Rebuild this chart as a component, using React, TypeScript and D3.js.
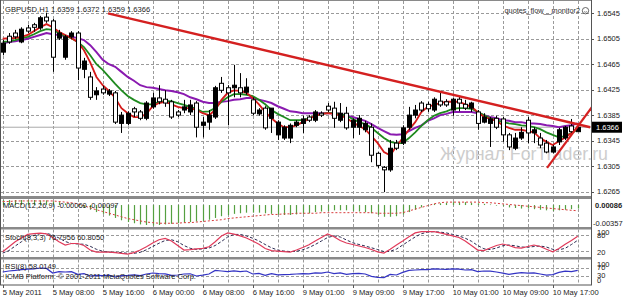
import React from 'react';
import * as d3 from 'd3';

const W = 623;
const H = 298;

// ---- price data (hourly GBPUSD) ----
const opens = [1.6484,1.6509,1.6514,1.6500,1.6522,1.6527,1.6522,1.6539,1.6533,1.6506,
1.6476,1.6508,1.6514,1.6457,1.6445,1.6417,1.6426,1.6418,1.6420,1.6372,
1.6372,1.6395,1.6390,1.6380,1.6398,1.6412,1.6410,1.6406,1.6390,1.6393,
1.6390,1.6404,1.6369,1.6374,1.6382,1.6435,1.6428,1.6428,1.6428,1.6421,
1.6409,1.6387,1.6396,1.6380,1.6354,1.6349,1.6349,1.6369,1.6372,1.6382,
1.6377,1.6388,1.6399,1.6396,1.6377,1.6388,1.6366,1.6366,1.6362,1.6366,
1.6325,1.6303,1.6299,1.6341,1.6341,1.6366,1.6385,1.6404,1.6402,1.6393,
1.6407,1.6406,1.6393,1.6410,1.6402,1.6396,1.6390,1.6374,1.6372,1.6380,
1.6379,1.6354,1.6333,1.6349,1.6377,1.6357,1.6349,1.6341,1.6327,1.6343,
1.6349,1.6368,1.6359];
const highs = [1.6503,1.6514,1.6519,1.6523,1.6527,1.6530,1.6541,1.6546,1.6536,1.6519,
1.6511,1.6517,1.6517,1.6475,1.6453,1.6429,1.6431,1.6426,1.6423,1.6390,
1.6391,1.6398,1.6393,1.6407,1.6420,1.6432,1.6424,1.6409,1.6393,1.6409,
1.6409,1.6407,1.6382,1.6393,1.6431,1.6445,1.6432,1.6464,1.6451,1.6443,
1.6413,1.6396,1.6399,1.6396,1.6377,1.6369,1.6372,1.6377,1.6384,1.6385,
1.6393,1.6391,1.6404,1.6406,1.6404,1.6398,1.6380,1.6385,1.6376,1.6372,
1.6327,1.6305,1.6346,1.6346,1.6369,1.6398,1.6401,1.6407,1.6406,1.6413,
1.6420,1.6410,1.6412,1.6415,1.6409,1.6406,1.6393,1.6388,1.6382,1.6384,
1.6382,1.6357,1.6357,1.6366,1.6382,1.6366,1.6357,1.6346,1.6338,1.6365,
1.6368,1.6379,1.6372];
const lows = [1.6479,1.6497,1.6505,1.6498,1.6514,1.6516,1.6519,1.6530,1.6453,1.6503,
1.6472,1.6505,1.6440,1.6443,1.6409,1.6409,1.6417,1.6415,1.6371,1.6357,
1.6369,1.6382,1.6377,1.6377,1.6395,1.6402,1.6398,1.6379,1.6382,1.6388,
1.6385,1.6350,1.6350,1.6362,1.6379,1.6420,1.6369,1.6413,1.6413,1.6417,
1.6385,1.6384,1.6362,1.6357,1.6346,1.6346,1.6341,1.6366,1.6357,1.6374,
1.6374,1.6382,1.6390,1.6365,1.6374,1.6362,1.6349,1.6354,1.6358,1.6311,
1.6302,1.6264,1.6296,1.6330,1.6338,1.6362,1.6380,1.6390,1.6390,1.6390,
1.6398,1.6398,1.6384,1.6391,1.6393,1.6390,1.6362,1.6372,1.6335,1.6363,
1.6343,1.6330,1.6330,1.6346,1.6341,1.6341,1.6333,1.6325,1.6325,1.6338,
1.6346,1.6357,1.6359];
const closes = [1.6498,1.6500,1.6508,1.6520,1.6517,1.6523,1.6538,1.6533,1.6476,1.6514,
1.6508,1.6514,1.6459,1.6470,1.6413,1.6423,1.6420,1.6423,1.6374,1.6385,
1.6388,1.6390,1.6380,1.6404,1.6412,1.6406,1.6404,1.6382,1.6385,1.6398,
1.6401,1.6366,1.6374,1.6385,1.6428,1.6424,1.6420,1.6432,1.6420,1.6429,
1.6388,1.6393,1.6365,1.6396,1.6374,1.6366,1.6369,1.6374,1.6379,1.6377,
1.6390,1.6385,1.6393,1.6380,1.6388,1.6365,1.6377,1.6380,1.6372,1.6322,
1.6306,1.6299,1.6333,1.6333,1.6365,1.6385,1.6393,1.6393,1.6395,1.6410,
1.6401,1.6401,1.6410,1.6404,1.6396,1.6404,1.6372,1.6382,1.6379,1.6366,
1.6354,1.6335,1.6349,1.6358,1.6357,1.6362,1.6338,1.6327,1.6335,1.6362,
1.6366,1.6359,1.6366];

// moving averages
const maRed = [1.6505,1.6506,1.6506,1.6508,1.6511,1.6517,1.6523,1.6528,1.6523,1.6516,
1.6511,1.6506,1.6500,1.6487,1.6468,1.6445,1.6432,1.6423,1.6412,1.6396,
1.6388,1.6382,1.6382,1.6387,1.6399,1.6404,1.6406,1.6402,1.6398,1.6396,
1.6396,1.6393,1.6388,1.6385,1.6393,1.6409,1.6420,1.6424,1.6423,1.6420,
1.6412,1.6402,1.6390,1.6380,1.6372,1.6366,1.6366,1.6369,1.6374,1.6379,
1.6384,1.6387,1.6388,1.6387,1.6385,1.6380,1.6374,1.6368,1.6363,1.6352,
1.6341,1.6327,1.6322,1.6336,1.6349,1.6362,1.6374,1.6390,1.6398,1.6401,
1.6404,1.6406,1.6406,1.6406,1.6402,1.6398,1.6390,1.6382,1.6379,1.6376,
1.6369,1.6365,1.6362,1.6362,1.6360,1.6358,1.6349,1.6343,1.6338,1.6344,
1.6350,1.6357,1.6365];
const maGreen = [1.6500,1.6501,1.6503,1.6506,1.6508,1.6512,1.6517,1.6520,1.6519,1.6514,
1.6509,1.6506,1.6500,1.6492,1.6479,1.6465,1.6456,1.6445,1.6434,1.6424,
1.6415,1.6409,1.6404,1.6402,1.6402,1.6406,1.6407,1.6407,1.6404,1.6401,
1.6398,1.6395,1.6390,1.6391,1.6396,1.6406,1.6413,1.6418,1.6418,1.6417,
1.6415,1.6409,1.6402,1.6393,1.6387,1.6382,1.6377,1.6377,1.6377,1.6380,
1.6384,1.6387,1.6388,1.6388,1.6387,1.6384,1.6379,1.6374,1.6371,1.6365,
1.6357,1.6349,1.6343,1.6341,1.6341,1.6349,1.6358,1.6368,1.6377,1.6384,
1.6388,1.6391,1.6395,1.6396,1.6396,1.6395,1.6390,1.6385,1.6380,1.6377,
1.6374,1.6372,1.6371,1.6369,1.6368,1.6366,1.6363,1.6358,1.6354,1.6350,
1.6352,1.6357,1.6362];
const maPurple = [1.6498,1.6500,1.6501,1.6503,1.6505,1.6508,1.6511,1.6514,1.6512,1.6511,
1.6509,1.6508,1.6506,1.6503,1.6495,1.6484,1.6472,1.6465,1.6461,1.6453,
1.6445,1.6439,1.6432,1.6429,1.6428,1.6426,1.6424,1.6423,1.6421,1.6418,
1.6413,1.6410,1.6406,1.6404,1.6404,1.6406,1.6407,1.6409,1.6410,1.6412,
1.6412,1.6409,1.6407,1.6404,1.6399,1.6395,1.6391,1.6390,1.6388,1.6388,
1.6388,1.6388,1.6388,1.6388,1.6387,1.6384,1.6382,1.6379,1.6376,1.6371,
1.6365,1.6360,1.6355,1.6354,1.6355,1.6360,1.6365,1.6369,1.6376,1.6380,
1.6385,1.6387,1.6390,1.6390,1.6390,1.6390,1.6388,1.6385,1.6382,1.6380,
1.6377,1.6376,1.6374,1.6374,1.6372,1.6372,1.6371,1.6369,1.6368,1.6366,
1.6368,1.6369,1.6372];

// MACD
const macdMain = [0.00086,0.00086,0.00086,0.00086,0.00086,0.00086,0.0008,0.0008,0.0006,0.0005,
0.0003,0.0001,-0.0002,-0.0005,-0.0008,-0.0012,-0.0015,-0.0018,-0.0022,-0.0026,
-0.0029,-0.0031,-0.0033,-0.0034,-0.0035,-0.0034,-0.0033,-0.0032,-0.0031,-0.0030,
-0.0029,-0.0028,-0.0027,-0.0025,-0.0022,-0.0019,-0.0017,-0.0015,-0.0014,-0.0013,
-0.0013,-0.0013,-0.0014,-0.0015,-0.0016,-0.0017,-0.0017,-0.0016,-0.0015,-0.0014,
-0.0012,-0.0011,-0.0010,-0.0009,-0.0009,-0.0009,-0.0010,-0.0011,-0.0012,-0.0014,
-0.0017,-0.0020,-0.0020,-0.0019,-0.0016,-0.0012,-0.0008,-0.0004,-0.0001,0.0002,
0.0003,0.0004,0.0005,0.0005,0.0005,0.0004,0.0003,0.0002,0.0001,-0.0001,
-0.0002,-0.0004,-0.0005,-0.0006,-0.0006,-0.0007,-0.0008,-0.0009,-0.0010,-0.0009,
-0.0008,-0.0007,-0.0006];
const macdSignal = [0.0006,0.0006,0.0007,0.0007,0.0007,0.0007,0.0007,0.0007,0.0007,0.0006,
0.0005,0.0004,0.0002,-0.0001,-0.0005,-0.0008,-0.0011,-0.0014,-0.0017,-0.0020,
-0.0023,-0.0025,-0.0027,-0.0029,-0.0030,-0.0031,-0.0031,-0.0031,-0.0031,-0.0030,
-0.0030,-0.0029,-0.0028,-0.0027,-0.0026,-0.0025,-0.0023,-0.0022,-0.0021,-0.0020,
-0.0019,-0.0018,-0.0017,-0.0016,-0.0016,-0.0015,-0.0015,-0.0014,-0.0014,-0.0014,
-0.0014,-0.0013,-0.0013,-0.0013,-0.0013,-0.0013,-0.0013,-0.0013,-0.0013,-0.0013,
-0.0014,-0.0014,-0.0014,-0.0014,-0.0013,-0.0010,-0.0007,-0.0004,-0.0001,0.0002,
0.0004,0.0005,0.0005,0.0005,0.0005,0.0005,0.0005,0.0004,0.0004,0.0003,
0.0002,0.0001,0.0000,-0.0001,-0.0002,-0.0003,-0.0004,-0.0005,-0.0006,-0.0007,
-0.0008,-0.0009,-0.00097];

// Stochastic
const stochMain = [15,35,55,70,84,87,89,86,72,55,
42,48,48,40,22,14,14,14,12,9,
6,12,22,35,50,63,68,58,40,22,
24,27,29,35,55,78,90,85,78,70,
58,45,28,20,18,16,14,22,32,43,
58,72,86,75,60,50,44,38,32,24,
15,10,25,42,58,75,90,95,95,95,
90,84,78,72,58,40,22,20,30,40,
46,40,32,30,36,42,36,25,15,28,
45,60,76.7956];
const stochSignal = [10,20,38,55,70,80,87,88,82,70,
56,48,46,45,37,25,17,14,13,12,
9,9,13,23,36,49,60,63,55,40,
29,24,27,30,40,56,74,84,84,78,
69,58,44,31,22,18,16,17,23,32,
44,58,72,78,74,62,51,44,38,31,
24,16,17,26,42,58,74,87,93,95,
93,90,84,78,69,57,40,27,24,30,
39,42,39,34,33,36,38,34,25,23,
29,44,60.805];

// RSI
const rsiValues = [50,55,58,62,64,66,70,68,45,52,
50,52,38,42,30,33,32,34,25,32,
33,36,32,40,45,42,41,33,35,40,
41,30,34,40,58,55,52,56,52,55,
40,43,33,42,36,37,38,40,42,41,
46,44,50,42,46,38,42,43,40,28,
23,22,38,35,48,58,60,62,62,66,
64,63,66,64,60,62,52,55,54,50,
44,38,43,47,44,46,40,34,37,48,
54,52,58.0149];

// axes
const timeLabelBars = [0, 8, 16, 24, 32, 40, 48, 56, 64, 72, 80, 88];
const timeLabels = ['5 May 2011', '5 May 08:00', '5 May 16:00', '6 May 00:00', '6 May 08:00', '6 May 16:00',
  '9 May 01:00', '9 May 09:00', '9 May 17:00', '10 May 01:00', '10 May 09:00', '10 May 17:00'];
const priceTicks = [1.6545, 1.6505, 1.6465, 1.6425, 1.6385, 1.6345, 1.6305, 1.6265];
const lastPrice = 1.6366;
const stochLevels = [80, 20];
const rsiLevels = [70, 30];

// trend lines (bar index, price)
const resistanceBars = [16.85, 94.0];
const resistancePrices = [1.6545, 1.6366];
const supportBars = [87.1, 94.3];
const supportPrices = [1.6302, 1.6398];

const FONT = "'Liberation Sans', Arial, sans-serif";

export default function App() {
  const n = closes.length;
  const idx = d3.range(n);
  const x = d3.scaleLinear().domain([0, 92]).range([2.7, 577.7]);
  const yP = d3.scaleLinear().domain([1.6265, 1.6545]).range([191.5, 13.3]);
  const yM = d3.scaleLinear().domain([-0.00357, 0.00086]).range([226, 200]);
  const yS = d3.scaleLinear().domain([0, 100]).range([255.6, 230.4]);
  const yR = d3.scaleLinear().domain([0, 100]).range([282, 262]);

  const mkLine = (arr: number[], ys: (v: number) => number) =>
    d3.line<number>().x((i) => x(i)).y((i) => ys(arr[i]))(idx) || '';

  const PL = 1, PR = 591;
  const gridX = d3.range(0, 93, 4);
  const gridColor = '#9a9a9a';
  const dash = '3,2';

  const panels = [
    { y0: 1, y1: 196 },
    { y0: 199, y1: 227 },
    { y0: 229.5, y1: 257 },
    { y0: 259.5, y1: 284.5 },
  ];

  const trendLine = (bars: number[], prices: number[]) =>
    d3.line<number>().x((k) => x(bars[k])).y((k) => yP(prices[k]))([0, 1]) || '';

  return (
    <svg width={W} height={H} style={{ position: 'fixed', left: 0, top: 0, background: '#fff' }}
      fontFamily={FONT}>
      <defs>
        <clipPath id="cMain"><rect x={PL} y={1} width={PR - PL} height={195} /></clipPath>
        <clipPath id="cMacd"><rect x={PL} y={199} width={PR - PL} height={28} /></clipPath>
        <clipPath id="cStoch"><rect x={PL} y={229.5} width={PR - PL} height={27.5} /></clipPath>
        <clipPath id="cRsi"><rect x={PL} y={259.5} width={PR - PL} height={25} /></clipPath>
      </defs>
      <rect x={0} y={0} width={W} height={H} fill="#fff" />

      {/* vertical grid in all panels */}
      {panels.map((p, k) => (
        <g key={'vg' + k}>
          {gridX.map((i) => (
            <line key={i} x1={Math.round(x(i)) + 0.5} x2={Math.round(x(i)) + 0.5} y1={p.y0} y2={p.y1}
              stroke={gridColor} strokeDasharray={dash} strokeWidth={1} />
          ))}
        </g>
      ))}
      {/* horizontal grid */}
      {priceTicks.map((p) => (
        <line key={p} x1={PL} x2={PR} y1={Math.round(yP(p)) + 0.5} y2={Math.round(yP(p)) + 0.5}
          stroke={gridColor} strokeDasharray={dash} />
      ))}
      {stochLevels.map((v) => (
        <line key={'s' + v} x1={PL} x2={PR} y1={Math.round(yS(v)) + 0.5} y2={Math.round(yS(v)) + 0.5}
          stroke={gridColor} strokeDasharray={dash} />
      ))}
      {rsiLevels.map((v) => (
        <line key={'r' + v} x1={PL} x2={PR} y1={Math.round(yR(v)) + 0.5} y2={Math.round(yR(v)) + 0.5}
          stroke={gridColor} strokeDasharray={dash} />
      ))}

      {/* watermark */}
      <text x={440} y={160} fontSize={17.8} fill="#cdcdcd" fontFamily={FONT}>Журнал ForTrader.ru</text>

      {/* main panel */}
      <g clipPath="url(#cMain)">
        <line x1={PL} x2={PR} y1={yP(lastPrice)} y2={yP(lastPrice)} stroke="#a9a9a9" strokeWidth={1} />
        <path d={mkLine(maPurple, yP)} fill="none" stroke="#8a1ab0" strokeWidth={2} />
        <path d={mkLine(maGreen, yP)} fill="none" stroke="#1f8a1f" strokeWidth={1.8} />
        <path d={mkLine(maRed, yP)} fill="none" stroke="#d41a1a" strokeWidth={1.8} />
        {idx.map((i) => {
          const cx = Math.round(x(i)) + 0.5;
          const o = opens[i], c = closes[i];
          const top = yP(Math.max(o, c));
          const bot = yP(Math.min(o, c));
          const bull = c > o;
          return (
            <g key={i}>
              <line x1={cx} x2={cx} y1={yP(highs[i])} y2={yP(lows[i])} stroke="#000" strokeWidth={1} />
              <rect x={cx - 2} y={top} width={4} height={Math.max(1, bot - top)}
                fill={bull ? '#000' : '#fff'} stroke="#000" strokeWidth={1} />
            </g>
          );
        })}
        <path d={trendLine(resistanceBars, resistancePrices)} stroke="#d42020" strokeWidth={2.4} fill="none" />
        <path d={trendLine(supportBars, supportPrices)} stroke="#d42020" strokeWidth={2.2} fill="none" />
      </g>

      {/* MACD */}
      <g clipPath="url(#cMacd)">
        {idx.map((i) => (
          <line key={i} x1={Math.round(x(i)) + 0.5} x2={Math.round(x(i)) + 0.5} y1={yM(0)} y2={yM(macdMain[i])}
            stroke="#55a040" strokeWidth={1.2} />
        ))}
        <path d={mkLine(macdSignal, yM)} fill="none" stroke="#d83c3c" strokeWidth={1} strokeDasharray="2,2" />
      </g>

      {/* Stochastic */}
      <g clipPath="url(#cStoch)">
        <path d={mkLine(stochSignal, yS)} fill="none" stroke="#2a2a50" strokeWidth={1} strokeDasharray="3,2" />
        <path d={mkLine(stochMain, yS)} fill="none" stroke="#e03a5a" strokeWidth={1.2} />
      </g>

      {/* RSI */}
      <g clipPath="url(#cRsi)">
        <path d={mkLine(rsiValues, yR)} fill="none" stroke="#3434c4" strokeWidth={1.2} />
      </g>

      {/* separators & frame */}
      <rect x={0} y={196} width={PR + 1} height={3} fill="#8a8a8a" />
      <rect x={0} y={227} width={PR + 1} height={2.5} fill="#8a8a8a" />
      <rect x={0} y={257} width={PR + 1} height={2.5} fill="#8a8a8a" />
      <line x1={0} x2={PR + 1} y1={0.5} y2={0.5} stroke="#8a8a8a" />
      <line x1={0} x2={PR + 1} y1={285} y2={285} stroke="#555" />
      <line x1={0.5} x2={0.5} y1={0} y2={285} stroke="#555" />
      <line x1={PR + 0.5} x2={PR + 0.5} y1={0} y2={285} stroke="#555" />

      {/* price axis */}
      {priceTicks.map((p) => (
        <g key={'pt' + p}>
          <line x1={PR} x2={PR + 3} y1={Math.round(yP(p)) + 0.5} y2={Math.round(yP(p)) + 0.5} stroke="#555" />
          <text x={597} y={yP(p)} dy="0.35em" fontSize={7.5} fill="#222">{p.toFixed(4)}</text>
        </g>
      ))}
      <rect x={592} y={yP(lastPrice) - 5.5} width={30} height={11} fill="#000" />
      <text x={596} y={yP(lastPrice)} dy="0.35em" fontSize={7.5} fill="#fff">{lastPrice.toFixed(4)}</text>

      {/* indicator axis labels (overlapping pairs as in the terminal) */}
      <text x={595} y={205} dy="0.35em" fontSize={7.5} fill="#222" fontWeight="bold">0.00086</text>
      <text x={593} y={223} dy="0.35em" fontSize={7.5} fill="#222">-0.00357</text>
      <text x={597} y={232.5} dy="0.35em" fontSize={7.5} fill="#222">100</text>
      <text x={597} y={235} dy="0.35em" fontSize={7.5} fill="#222">80</text>
      <text x={597} y={252} dy="0.35em" fontSize={7.5} fill="#222">20</text>
      <text x={597} y={264} dy="0.35em" fontSize={7.5} fill="#222">100</text>
      <text x={597} y={267} dy="0.35em" fontSize={7.5} fill="#222">70</text>
      <text x={597} y={275.5} dy="0.35em" fontSize={7.5} fill="#222">30</text>
      <text x={597} y={280.5} dy="0.35em" fontSize={7.5} fill="#222">0</text>

      {/* time axis */}
      {timeLabelBars.map((b, k) => (
        <g key={'tl' + b}>
          <line x1={Math.round(x(b)) + 0.5} x2={Math.round(x(b)) + 0.5} y1={285} y2={288} stroke="#555" />
          <text x={x(b)} y={292} dy="0.35em" fontSize={7.6} fill="#222">{timeLabels[k]}</text>
        </g>
      ))}

      {/* titles */}
      <text x={5} y={9.5} dy="0.35em" fontSize={7.6} fill="#222">GBPUSD,H1  1.6359 1.6372 1.6359 1.6366</text>
      <text x={580} y={10.7} dy="0.35em" fontSize={7.3} fill="#333" textAnchor="end">quotes_flow__monitor2</text>
      <circle cx={585.5} cy={10.7} r={3.2} fill="none" stroke="#444" strokeWidth={0.8} />
      <path d="M584 11.5 Q585.5 13 587 11.5" fill="none" stroke="#444" strokeWidth={0.6} />
      <text x={3} y={205} dy="0.35em" fontSize={7.5} fill="#222">MACD(12,26,9) -0.00060 -0.00097</text>
      <text x={5} y={237.5} dy="0.35em" fontSize={7.5} fill="#222">Stoch(8,3,3) 76.7956 60.8050</text>
      <text x={5} y={266.5} dy="0.35em" fontSize={7.5} fill="#222">RSI(8) 58.0149</text>
      <text x={5} y={276.5} dy="0.35em" fontSize={7.5} fill="#222">ICMB Platform: © 2001-2011 MetaQuotes Software Corp.</text>
    </svg>
  );
}
